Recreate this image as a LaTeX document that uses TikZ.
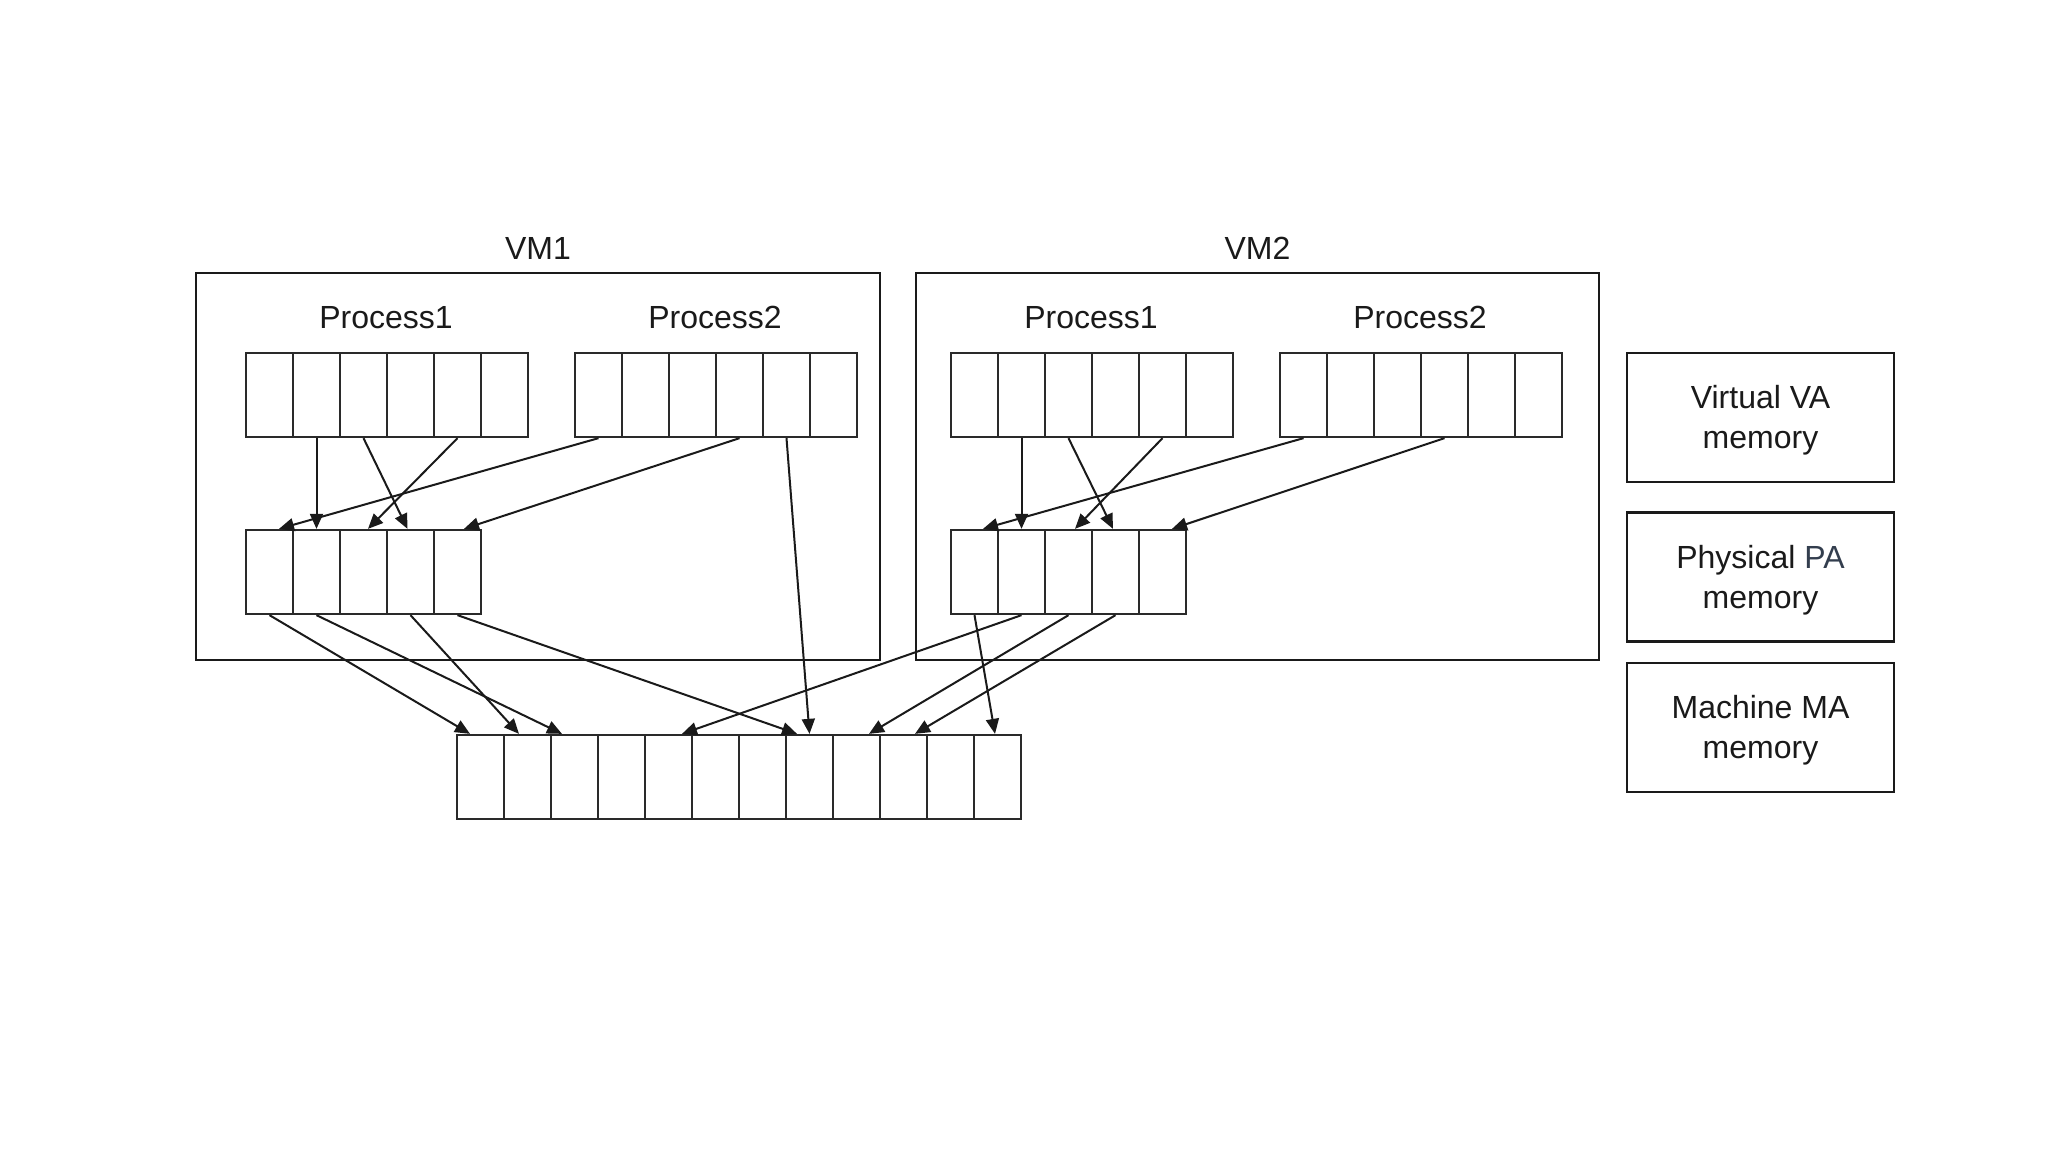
\documentclass[tikz,border=0pt]{standalone}
\usepackage{fontspec}
\setmainfont{Liberation Sans}
\usetikzlibrary{arrows.meta,calc}
\definecolor{ink}{HTML}{1A1A1A}
\definecolor{cellink}{HTML}{2A2A2A}
\definecolor{pacol}{HTML}{333E4E}
\begin{document}
\begin{tikzpicture}[x=1pt,y=-1pt,
  cell/.style={draw=cellink, line width=2.3pt, minimum width=47pt, minimum height=84pt, inner sep=0pt, fill=white},
  frame/.style={draw=ink, line width=2.8pt, inner sep=0pt},
  lbl/.style={font=\fontsize{32}{40}\selectfont, text=ink, inner sep=0pt},
  link/.style={draw=ink, line width=2pt, -{Triangle[length=15pt,width=13pt]}},
  legend/.style={draw=ink, line width=2.8pt, minimum width=267pt, minimum height=129pt, inner sep=0pt}
]
\useasboundingbox (0,0) rectangle (2048,1152);
\fill[white] (0,0) rectangle (2048,1152);

% VM frames
\node[frame, minimum width=684pt, minimum height=387pt] (vm1) at (538,466.5) {};
\node[frame, minimum width=683pt, minimum height=387pt] (vm2) at (1257.5,466.5) {};
\node[lbl] (vm1l) at (538,248) {VM1};
\node[lbl] (vm2l) at (1257.5,248) {VM2};

% process labels
\node[lbl] (m1al) at (386,317.5) {Process1};
\node[lbl] (m1bl) at (715,317.5) {Process2};
\node[lbl] (m2al) at (1091,317.5) {Process1};
\node[lbl] (m2bl) at (1420,317.5) {Process2};

% arrays
\foreach \i in {1,...,6} {
  \node[cell] (m1a\i) at ({269.5+47*(\i-1)},395) {};
  \node[cell] (m1b\i) at ({598.5+47*(\i-1)},395) {};
  \node[cell] (m2a\i) at ({974.5+47*(\i-1)},395) {};
  \node[cell] (m2b\i) at ({1303.5+47*(\i-1)},395) {};
}
\foreach \i in {1,...,5} {
  \node[cell] (m1p\i) at ({269.5+47*(\i-1)},572) {};
  \node[cell] (m2p\i) at ({974.5+47*(\i-1)},572) {};
}
\foreach \i in {1,...,12} {
  \node[cell] (mm\i) at ({480.5+47*(\i-1)},777) {};
}

% VM1 virtual -> physical
\draw[link] (m1a2.south) -- (m1p2.north);
\draw[link] (m1a3.south) -- ([xshift=-3pt]m1p4.north);
\draw[link] (m1a5.south) -- ([xshift=4.5pt]m1p3.north);
\draw[link] (m1b1.south) -- ([xshift=9.5pt]m1p1.north);
\draw[link] (m1b4.south) -- ([xshift=6.5pt]m1p5.north);
\draw[link] (m1b5.south) -- (mm8.north);

% VM2 virtual -> physical
\draw[link] (m2a2.south) -- (m2p2.north);
\draw[link] (m2a3.south) -- ([xshift=-2.5pt]m2p4.north);
\draw[link] (m2a5.south) -- ([xshift=6.5pt]m2p3.north);
\draw[link] (m2b1.south) -- ([xshift=8.5pt]m2p1.north);
\draw[link] (m2b4.south) -- ([xshift=9.5pt]m2p5.north);

% physical -> machine
\draw[link] (m1p1.south) -- ([xshift=-10.5pt]mm1.north);
\draw[link] (m1p2.south) -- ([xshift=-12.5pt]mm3.north);
\draw[link] (m1p4.south) -- ([xshift=-8.5pt]mm2.north);
\draw[link] (m1p5.south) -- ([xshift=-12.5pt]mm8.north);
\draw[link] (m2p1.south) -- ([xshift=-2.5pt]mm12.north);
\draw[link] (m2p2.south) -- ([xshift=13.5pt]mm5.north);
\draw[link] (m2p3.south) -- ([xshift=12.5pt]mm9.north);
\draw[link] (m2p4.south) -- ([xshift=11.5pt]mm10.north);

% legend
\node[legend] (lgva) at (1760.5,417.5) {};
\node[legend] (lgpa) at (1760.5,577) {};
\node[legend] (lgma) at (1760.5,727.5) {};
\node[lbl, align=center] (lgvat) at ([yshift=-3pt]lgva.center) {Virtual VA\\memory};
\node[lbl, align=center] (lgpat) at ([yshift=-3pt]lgpa.center) {Physical {\color{pacol}PA}\\memory};
\node[lbl, align=center] (lgmat) at ([yshift=-3pt]lgma.center) {Machine MA\\memory};
\end{tikzpicture}
\end{document}
